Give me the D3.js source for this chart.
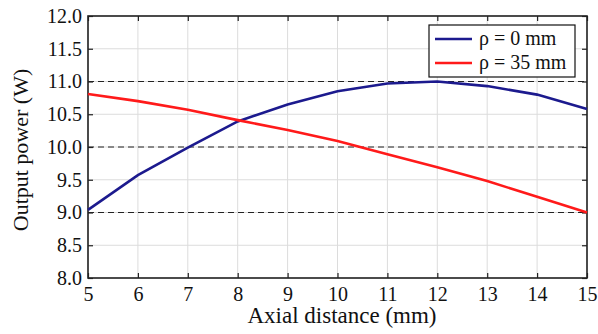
<!DOCTYPE html>
<html>
<head>
<meta charset="utf-8">
<script src="https://cdn.jsdelivr.net/npm/d3@7"></script>
<style>
body { margin: 0; background: #fff; }
svg text { font-family: "Liberation Serif", "Times New Roman", Times, serif !important; fill: #111; }
</style>
</head>
<body>
<div id="chart"></div>
<script>
const axialDistance = [5, 6, 7, 8, 9, 10, 11, 12, 13, 14, 15]
const powerRho0 = [9.04, 9.57, 9.99, 10.39, 10.65, 10.85, 10.97, 11.0, 10.93, 10.8, 10.58]
const powerRho35 = [10.81, 10.7, 10.57, 10.41, 10.26, 10.09, 9.89, 9.69, 9.48, 9.24, 9.0]
const yTicks = [8.0, 8.5, 9.0, 9.5, 10.0, 10.5, 11.0, 11.5, 12.0]
const dashedLevels = [9, 10, 11]
const seriesNames = ["ρ = 0 mm", "ρ = 35 mm"]
const seriesColors = ["#1c1a8e", "#ff1a1a"]

const width = 598
const height = 334
const margin = { top: 16, right: 11, bottom: 56, left: 88 }

const svg = d3.select("#chart").append("svg").attr("width", width).attr("height", height)

const x = d3.scaleLinear().domain([5, 15]).range([margin.left, width - margin.right])
const y = d3.scaleLinear().domain([8, 12]).range([height - margin.bottom, margin.top])

// grid
svg.append("g").selectAll("line").data(axialDistance).enter().append("line")
    .attr("x1", d => x(d)).attr("x2", d => x(d)).attr("y1", y(8)).attr("y2", y(12))
    .attr("stroke", "#dcdcdc").attr("stroke-width", 1)
svg.append("g").selectAll("line").data(yTicks).enter().append("line")
    .attr("x1", x(5)).attr("x2", x(15)).attr("y1", d => y(d)).attr("y2", d => y(d))
    .attr("stroke", "#dcdcdc").attr("stroke-width", 1)
svg.append("g").selectAll("line").data(dashedLevels).enter().append("line")
    .attr("x1", x(5)).attr("x2", x(15)).attr("y1", d => y(d)).attr("y2", d => y(d))
    .attr("stroke", "#222").attr("stroke-width", 1.2).attr("stroke-dasharray", "6,4")

// axes with inward ticks
svg.append("g").attr("transform", `translate(0,${y(8)})`)
    .call(d3.axisBottom(x).tickValues(axialDistance).tickFormat(d3.format("d")).tickSizeInner(-5).tickSizeOuter(0).tickPadding(9))
svg.append("g").attr("transform", `translate(0,${y(12)})`)
    .call(d3.axisTop(x).tickValues(axialDistance).tickFormat("").tickSizeInner(-5).tickSizeOuter(0))
svg.append("g").attr("transform", `translate(${x(5)},0)`)
    .call(d3.axisLeft(y).tickValues(yTicks).tickFormat(d3.format(".1f")).tickSizeInner(-5).tickSizeOuter(0).tickPadding(6))
svg.append("g").attr("transform", `translate(${x(15)},0)`)
    .call(d3.axisRight(y).tickValues(yTicks).tickFormat("").tickSizeInner(-5).tickSizeOuter(0))

svg.selectAll("g").attr("font-family", null)
svg.selectAll(".domain").remove()
svg.selectAll(".tick line").attr("stroke", "#222").attr("stroke-width", 1.2)
svg.selectAll(".tick text").style("font-size", "20px").attr("fill", "#111")

svg.append("rect").attr("x", x(5)).attr("y", y(12)).attr("width", x(15) - x(5)).attr("height", y(8) - y(12))
    .attr("fill", "none").attr("stroke", "#222").attr("stroke-width", 1.6)

// series
const line = d3.line().x((d, i) => x(axialDistance[i])).y(d => y(d))
svg.append("path").datum(powerRho0).attr("d", line).attr("fill", "none").attr("stroke", seriesColors[0]).attr("stroke-width", 2.6)
svg.append("path").datum(powerRho35).attr("d", line).attr("fill", "none").attr("stroke", seriesColors[1]).attr("stroke-width", 2.6)

// labels
svg.append("text").attr("x", 342).attr("y", 323).attr("text-anchor", "middle")
    .style("font-size", "23px").text("Axial distance (mm)")
svg.append("text").attr("transform", "translate(28,150) rotate(-90)").attr("text-anchor", "middle")
    .style("font-size", "22px").text("Output power (W)")

// legend
const legend = svg.append("g").attr("transform", "translate(429,25)")
legend.append("rect").attr("width", 146).attr("height", 52).attr("fill", "#fff").attr("stroke", "#111").attr("stroke-width", 1.2)
seriesNames.forEach((name, i) => {
    const ly = 14 + i * 24
    legend.append("line").attr("x1", 6).attr("x2", 43).attr("y1", ly).attr("y2", ly)
        .attr("stroke", seriesColors[i]).attr("stroke-width", 2.6)
    legend.append("text").attr("x", 50).attr("y", ly + 6).style("font-size", "20px").text(name)
})
</script>
</body>
</html>
